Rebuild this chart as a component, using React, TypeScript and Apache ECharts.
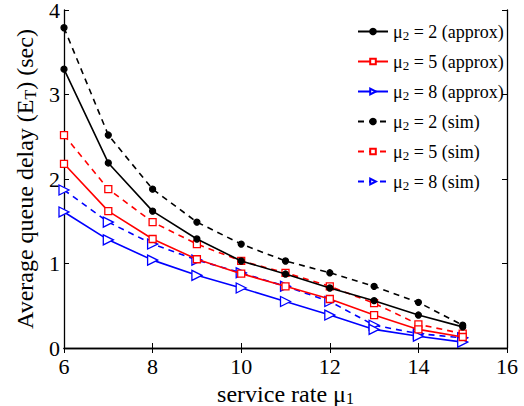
import React, { useEffect, useRef } from "react";
import * as echarts from "echarts";

const muValues = [6, 7, 8, 9, 10, 11, 12, 13, 14, 15];
const approx2 = [3.3, 2.19, 1.62, 1.29, 1.03, 0.875, 0.71, 0.56, 0.39, 0.25];
const approx5 = [2.18, 1.62, 1.29, 1.05, 0.88, 0.73, 0.58, 0.39, 0.22, 0.13];
const approx8 = [1.61, 1.28, 1.04, 0.86, 0.71, 0.55, 0.39, 0.22, 0.14, 0.07];
const sim2 = [3.79, 2.52, 1.88, 1.49, 1.23, 1.03, 0.89, 0.73, 0.54, 0.27];
const sim5 = [2.52, 1.88, 1.49, 1.23, 1.03, 0.89, 0.73, 0.53, 0.28, 0.17];
const sim8 = [1.87, 1.49, 1.23, 1.04, 0.89, 0.73, 0.55, 0.27, 0.17, 0.12];
const seriesNames = [
  "μ2 = 2 (approx)",
  "μ2 = 5 (approx)",
  "μ2 = 8 (approx)",
  "μ2 = 2 (sim)",
  "μ2 = 5 (sim)",
  "μ2 = 8 (sim)",
];
const xTicks = { min: 6, max: 16, interval: 2 };
const yTicks = { min: 0, max: 4, interval: 1 };

const FONT = "'Liberation Serif', 'Times New Roman', 'DejaVu Serif', serif";

export default function App() {
  const ref = useRef<HTMLDivElement>(null);
  useEffect(() => {
    if (!ref.current) return;
    const chart = echarts.init(ref.current, undefined, { renderer: "svg" });
    const pair = (arr: number[]) => muValues.map((x, i) => [x, arr[i]]);
    const styles = [
      { data: approx2, color: "#000000", dash: "solid", symbol: "circle", size: 6, filled: true, rotate: 0 },
      { data: approx5, color: "#ff0000", dash: "solid", symbol: "rect", size: 7, filled: false, rotate: 0 },
      { data: approx8, color: "#0000ff", dash: "solid", symbol: "triangle", size: 10, filled: false, rotate: -90 },
      { data: sim2, color: "#000000", dash: [6, 5], symbol: "circle", size: 6, filled: true, rotate: 0 },
      { data: sim5, color: "#ff0000", dash: [6, 5], symbol: "rect", size: 7, filled: false, rotate: 0 },
      { data: sim8, color: "#0000ff", dash: [6, 5], symbol: "triangle", size: 10, filled: false, rotate: -90 },
    ];
    const series = styles.map((s, i) => ({
      name: seriesNames[i],
      type: "line",
      data: pair(s.data),
      symbol: s.symbol,
      symbolSize: s.size,
      symbolRotate: s.rotate,
      showAllSymbol: true,
      lineStyle: { color: s.color, width: 1.6, type: s.dash },
      itemStyle: {
        color: s.filled ? s.color : "#ffffff",
        borderColor: s.color,
        borderWidth: 1.3,
        opacity: 1,
      },
      z: 10 - i,
    }));
    const axisCommon = {
      axisLine: { show: true, lineStyle: { color: "#000", width: 1.3 } },
      axisTick: { show: true, inside: true, length: 5, lineStyle: { color: "#000", width: 1 } },
      splitLine: { show: false },
    };
    chart.setOption({
      animation: false,
      backgroundColor: "#ffffff",
      grid: {
        left: 64,
        top: 10,
        right: 17,
        bottom: 58,
        containLabel: false,
        outerBoundsMode: "none",
      },
      legend: {
        show: true,
        orient: "vertical",
        left: 357,
        top: 21,
        padding: 0,
        itemWidth: 30,
        itemHeight: 7,
        itemGap: 9,
        data: seriesNames,
        formatter: (name: string) =>
          "{m|μ}{s|2}{t|" + name.replace(/^μ2/, "") + "}",
        textStyle: {
          fontFamily: FONT,
          color: "#000",
          rich: {
            m: { fontFamily: FONT, fontSize: 18, color: "#000", lineHeight: 20 },
            s: { fontFamily: FONT, fontSize: 13, color: "#000", lineHeight: 20, padding: [8, 0, 0, 0] },
            t: { fontFamily: FONT, fontSize: 18, color: "#000", lineHeight: 20 },
          },
        },
      },
      xAxis: [
        {
          type: "value",
          position: "bottom",
          min: xTicks.min,
          max: xTicks.max,
          interval: xTicks.interval,
          ...axisCommon,
          axisLabel: { color: "#000", fontFamily: FONT, fontSize: 22, margin: 7 },
          name: "{a|service rate μ}{b|1}",
          nameLocation: "middle",
          nameGap: 27,
          nameTextStyle: {
            fontFamily: FONT,
            rich: {
              a: { fontFamily: FONT, fontSize: 24, color: "#000", lineHeight: 24 },
              b: { fontFamily: FONT, fontSize: 16, color: "#000", lineHeight: 24, padding: [9, 0, 0, 0] },
            },
          },
        },
        {
          type: "value",
          position: "top",
          min: xTicks.min,
          max: xTicks.max,
          interval: xTicks.interval,
          ...axisCommon,
          axisLabel: { show: false },
        },
      ],
      yAxis: [
        {
          type: "value",
          position: "left",
          min: yTicks.min,
          max: yTicks.max,
          interval: yTicks.interval,
          ...axisCommon,
          axisLabel: { color: "#000", fontFamily: FONT, fontSize: 22, margin: 4, lineHeight: 18 },
          name: "{a|Average queue delay (E}{b|T}{a|) (sec)}",
          nameLocation: "middle",
          nameGap: 26,
          nameTextStyle: {
            fontFamily: FONT,
            rich: {
              a: { fontFamily: FONT, fontSize: 24, color: "#000", lineHeight: 26 },
              b: { fontFamily: FONT, fontSize: 16, color: "#000", lineHeight: 26, padding: [11, 0, 0, 0] },
            },
          },
        },
        {
          type: "value",
          position: "right",
          min: yTicks.min,
          max: yTicks.max,
          interval: yTicks.interval,
          ...axisCommon,
          axisLabel: { show: false },
        },
      ],
      series,
    });
    return () => chart.dispose();
  }, []);
  return (
    <div
      ref={ref}
      style={{ position: "fixed", left: 0, top: 0, width: 524, height: 406, background: "#fff" }}
    />
  );
}
